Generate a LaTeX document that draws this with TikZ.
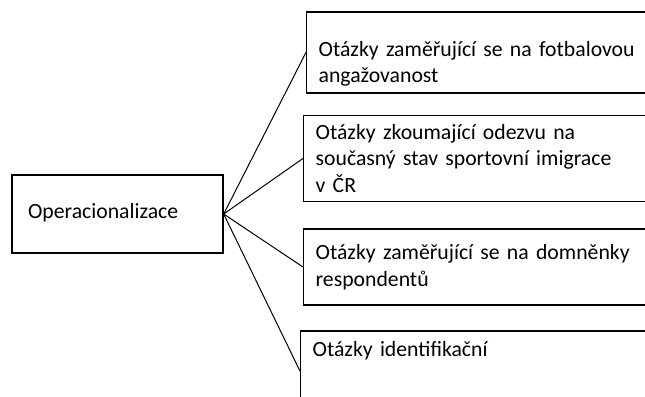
\documentclass[tikz,border=0pt]{standalone}
\usepackage{fontspec}
\setmainfont{Carlito}
\usetikzlibrary{positioning}
\tikzset{
  box/.style = {draw=black, line width=1pt, inner xsep=9pt,
    font=\fontsize{16.3pt}{20pt}\selectfont},
  rootbox/.style = {box, align=left, text width=134.25pt,
    inner xsep=12pt, minimum height=58.5pt},
  leaf/.style = {box, align=left, text width=282pt, anchor=west}
}
\begin{document}
\begin{tikzpicture}[line width=0.75pt, grow'=east, level distance=139.1pt,
  sibling distance=79.5pt,
  edge from parent path={(\tikzparentnode.east) -- (\tikzchildnode.west)}]
\useasboundingbox (0,0) rectangle (483.75pt,-297pt);
\clip (0,0) rectangle (483.75pt,-297pt);
\node [rootbox, text depth=4pt] (oper) at (88.125pt,-160.5pt) {Operacionalizace}
child{ node [leaf, minimum height=60.75pt, xshift=2.25pt, yshift=1.9pt,
    text depth=6pt] (angaz)
  {Otázky zaměřující se na fotbalovou\\angažovanost}}
child{ node [leaf, minimum height=64.5pt, yshift=1.9pt] (odezva)
  {Otázky zkoumající odezvu na\\současný stav sportovní imigrace\\v ČR}}
child{ node [leaf, minimum height=57pt] (domnenky)
  {Otázky zaměřující se na domněnky\\respondentů}}
child{ node [leaf, minimum height=60pt, xshift=-2.25pt, yshift=1.5pt,
    text height=12.75pt, text depth=35.25pt] (ident)
  {Otázky identifikační}}
;
\end{tikzpicture}
\end{document}
